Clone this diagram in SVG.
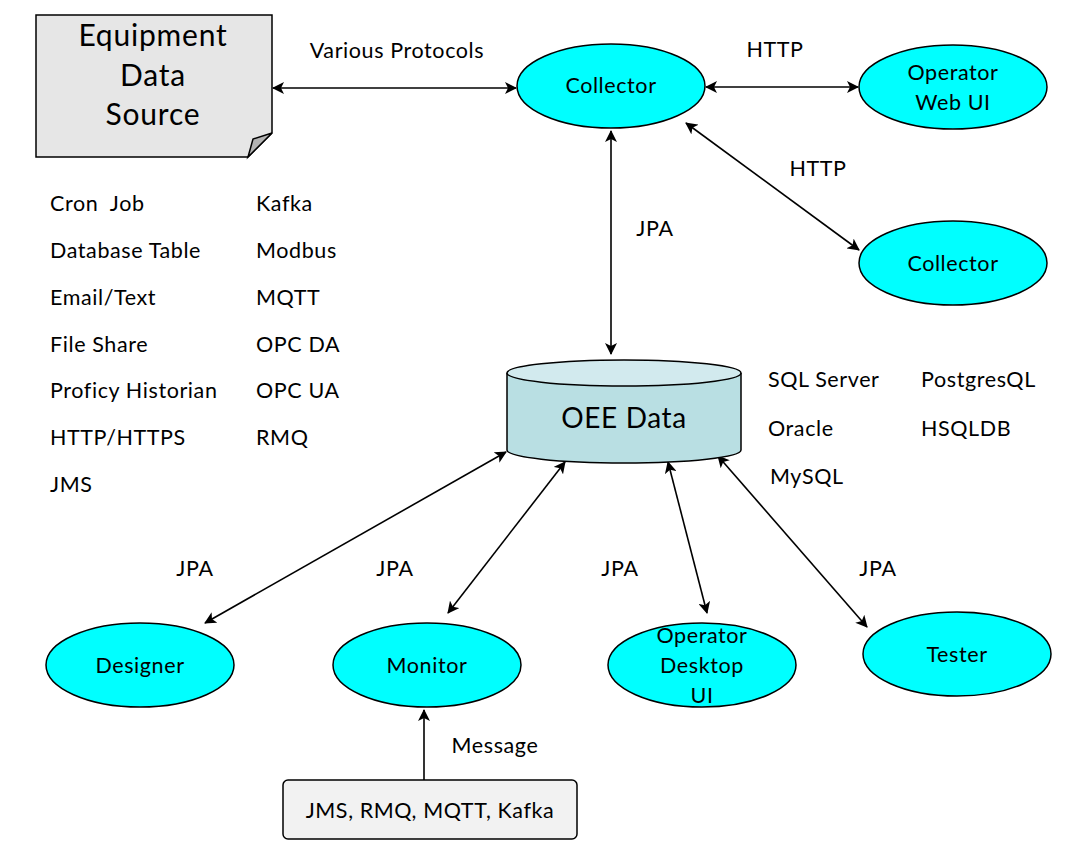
<svg xmlns="http://www.w3.org/2000/svg" width="1077" height="857" viewBox="0 0 1077 857">
<style>
text{font-family:Lato,"Open Sans","Liberation Sans",sans-serif;fill:#000;letter-spacing:0.6px;}
.lbl{font-size:21.5px;}
.node{font-size:21.5px;text-anchor:middle;}
.big{font-size:30px;text-anchor:middle;letter-spacing:0.8px;}
.ell{fill:#00ffff;stroke:#000;stroke-width:1.5;}
.con{stroke:#000;stroke-width:1.6;fill:none;marker-start:url(#ah);marker-end:url(#ah);}
</style>
<defs>
<marker id="ah" viewBox="0 0 12 12" refX="11" refY="6" markerWidth="12" markerHeight="12" markerUnits="userSpaceOnUse" orient="auto-start-reverse">
<path d="M0,0 L12,6 L0,12 L3,6 Z" fill="#000"/>
</marker>
<marker id="ae" viewBox="0 0 12 12" refX="11" refY="6" markerWidth="12" markerHeight="12" markerUnits="userSpaceOnUse" orient="auto">
<path d="M0,0 L12,6 L0,12 L3,6 Z" fill="#000"/>
</marker>
</defs>
<rect width="1077" height="857" fill="#fff"/>
<g id="connectors">
<line class="con" x1="273" y1="88" x2="516" y2="88"/>
<line class="con" x1="706" y1="87" x2="858" y2="87"/>
<line class="con" x1="686" y1="123" x2="859" y2="250"/>
<line class="con" x1="611" y1="131" x2="611" y2="354"/>
<line class="con" x1="506" y1="452" x2="205" y2="623"/>
<line class="con" x1="565" y1="462" x2="448" y2="613"/>
<line class="con" x1="668" y1="462" x2="707" y2="613"/>
<line class="con" x1="718" y1="456" x2="867" y2="627"/>
<line x1="424" y1="780" x2="424" y2="710" stroke="#000" stroke-width="1.6" marker-end="url(#ae)"/>
</g>
<g id="equipment">
<path d="M36,15 H272 V133 L248,157 H36 Z" fill="#e6e6e6" stroke="#000" stroke-width="1.5"/>
<path d="M248,157 L253,139 L272,133 Z" fill="#b3b3b3" stroke="#000" stroke-width="1.5"/>
<text class="big" x="153" y="46">Equipment</text>
<text class="big" x="153" y="86">Data</text>
<text class="big" x="153" y="125">Source</text>
</g>
<g id="collector">
<ellipse class="ell" cx="611" cy="86" rx="94" ry="42"/>
<text class="node" x="611" y="93">Collector</text>
</g>
<g id="operator-web-ui">
<ellipse class="ell" cx="953" cy="87" rx="94" ry="42"/>
<text class="node" x="953" y="80">Operator</text>
<text class="node" x="953" y="110">Web UI</text>
</g>
<g id="collector2">
<ellipse class="ell" cx="953" cy="263" rx="94" ry="42"/>
<text class="node" x="953" y="271">Collector</text>
</g>
<g id="oee-data">
<path d="M507,373 V450 A117,13 0 0 0 741,450 V373" fill="#b9dfe3" stroke="#000" stroke-width="1.5"/>
<ellipse cx="624" cy="373" rx="117" ry="13" fill="#d2eaee" stroke="#000" stroke-width="1.5"/>
<text x="624" y="428" font-size="28" text-anchor="middle">OEE Data</text>
</g>
<g id="designer">
<ellipse class="ell" cx="140" cy="665" rx="94" ry="42"/>
<text class="node" x="140" y="673">Designer</text>
</g>
<g id="monitor">
<ellipse class="ell" cx="427" cy="665" rx="94" ry="42"/>
<text class="node" x="427" y="673">Monitor</text>
</g>
<g id="operator-desktop-ui">
<ellipse class="ell" cx="702" cy="665" rx="94" ry="42"/>
<text class="node" x="702" y="643">Operator</text>
<text class="node" x="702" y="673">Desktop</text>
<text class="node" x="702" y="703">UI</text>
</g>
<g id="tester">
<ellipse class="ell" cx="957" cy="654" rx="94" ry="42"/>
<text class="node" x="957" y="662">Tester</text>
</g>
<g id="messaging">
<rect x="283" y="780" width="294" height="59" rx="5" fill="#f2f2f2" stroke="#000" stroke-width="1.5"/>
<text class="node" x="430" y="818">JMS, RMQ, MQTT, Kafka</text>
</g>
<g id="labels" class="lbl">
<text x="397" y="58" text-anchor="middle">Various Protocols</text>
<text x="775" y="57" text-anchor="middle">HTTP</text>
<text x="818" y="176" text-anchor="middle">HTTP</text>
<text x="655" y="236" text-anchor="middle">JPA</text>
<text x="195" y="576" text-anchor="middle">JPA</text>
<text x="395" y="576" text-anchor="middle">JPA</text>
<text x="620" y="576" text-anchor="middle">JPA</text>
<text x="878" y="576" text-anchor="middle">JPA</text>
<text x="495" y="753" text-anchor="middle">Message</text>
<text x="50" y="211" xml:space="preserve">Cron  Job</text>
<text x="50" y="258">Database Table</text>
<text x="50" y="305">Email/Text</text>
<text x="50" y="352">File Share</text>
<text x="50" y="398">Proficy Historian</text>
<text x="50" y="445">HTTP/HTTPS</text>
<text x="50" y="492">JMS</text>
<text x="256" y="211">Kafka</text>
<text x="256" y="258">Modbus</text>
<text x="256" y="305">MQTT</text>
<text x="256" y="352">OPC DA</text>
<text x="256" y="398">OPC UA</text>
<text x="256" y="445">RMQ</text>
<text x="768" y="387">SQL Server</text>
<text x="768" y="436">Oracle</text>
<text x="770" y="484">MySQL</text>
<text x="921" y="387">PostgresQL</text>
<text x="921" y="436">HSQLDB</text>
</g>
</svg>
